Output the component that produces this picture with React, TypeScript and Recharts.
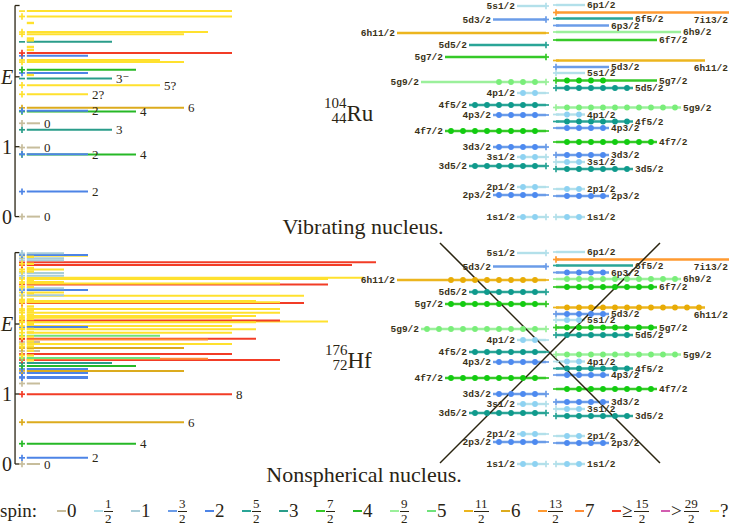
import { ComposedChart, ReferenceLine, Scatter, XAxis, YAxis } from 'recharts'

const W = 729
const H = 524
const SERIF = '"Liberation Serif", "DejaVu Serif", serif'
const MONO = '"Liberation Mono", "DejaVu Sans Mono", monospace'
const INK = '#2a2414'

// colours keyed by 2J
const spinColor: Record<number, string> = {
  0: '#c7bd9c',
  1: '#b3e0ea',
  2: '#a9cdd8',
  3: '#6b9ce8',
  4: '#4d84e6',
  5: '#2aa597',
  6: '#2a9d8a',
  7: '#36c928',
  8: '#26b826',
  9: '#9bf09b',
  10: '#6fe27a',
  11: '#ecb51e',
  12: '#dcab1e',
  13: '#ff9a30',
  14: '#ff8c36',
}
const dotColor: Record<number, string> = {
  1: '#8ed2f2',
  3: '#4d8af0',
  5: '#0f9a8c',
  7: '#12cc10',
  9: '#7aee7a',
  11: '#e8ac06',
  13: '#ff9020',
}
const RED = '#f23c26'
const MAGENTA = '#d25db0'
const UNKNOWN = '#ffe12e'

const legendSpins = ['0', '1/2', '1', '3/2', '2', '5/2', '3', '7/2', '4', '9/2', '5', '11/2', '6', '13/2', '7', '≥15/2', '>29/2', '?']

type Level = { e: number; j: number | null; p: number; t?: boolean; label?: string }

// 104Ru levels: energy (MeV), spin, parity, tentative
const ruLevels: Level[] = [
  { e: 0, j: 0, p: 1, label: '0' },
  { e: 0.358, j: 2, p: 1, label: '2' },
  { e: 0.888, j: 4, p: 1, label: '4' },
  { e: 0.893, j: 2, p: 1, label: '2' },
  { e: 0.988, j: 0, p: 1, label: '0' },
  { e: 1.242, j: 3, p: 1, label: '3' },
  { e: 1.335, j: 0, p: 1, label: '0' },
  { e: 1.556, j: 6, p: 1, label: '6' },
  { e: 1.503, j: 4, p: 1, label: '4' },
  { e: 1.515, j: 2, p: 1, label: '2' },
  { e: 1.75, j: 2, p: 1, t: true, label: '2?' },
  { e: 1.88, j: 5, p: 1, t: true, label: '5?' },
  { e: 1.975, j: 3, p: -1, label: '3⁻' },
  { e: 2.026, j: null, p: 0, t: true },
  { e: 2.055, j: 2, p: 1 },
  { e: 2.1, j: 4, p: 1 },
  { e: 2.21, j: 6, p: 1, t: true },
  { e: 2.24, j: 5, p: 1, t: true },
  { e: 2.3, j: 2, p: 1 },
  { e: 2.34, j: 8, p: 1 },
  { e: 2.384, j: null, p: 0, t: true },
  { e: 2.427, j: null, p: 0, t: true },
  { e: 2.5, j: 3, p: -1 },
  { e: 2.52, j: null, p: 0, t: true },
  { e: 2.548, j: null, p: 0, t: true },
  { e: 2.61, j: 6, p: 1, t: true },
  { e: 2.64, j: 7, p: 1, t: true },
  { e: 2.77, j: null, p: 0, t: true },
  { e: 2.863, j: 8, p: 1, t: true },
  { e: 2.94, j: 8, p: -1, t: true },
]

// 176Hf levels
const hfLevels: Level[] = [
  { e: 0, j: 0, p: 1, label: '0' },
  { e: 0.088, j: 2, p: 1, label: '2' },
  { e: 0.29, j: 4, p: 1, label: '4' },
  { e: 0.597, j: 6, p: 1, label: '6' },
  { e: 0.997, j: 8, p: 1, label: '8' },
  { e: 1.15, j: 0, p: 1 },
  { e: 1.23, j: 2, p: 1 },
  { e: 1.243, j: 2, p: 1 },
  { e: 1.3, j: 2, p: 1 },
  { e: 1.33, j: 6, p: 1 },
  { e: 1.357, j: 2, p: 1 },
  { e: 1.4, j: 4, p: 1 },
  { e: 1.443, j: 3, p: 1 },
  { e: 1.486, j: 10, p: 1 },
  { e: 1.505, j: 7, p: 1 },
  { e: 1.514, j: 5, p: 1 },
  { e: 1.571, j: 8, p: 1 },
  { e: 1.614, j: 0, p: 1 },
  { e: 1.657, j: 6, p: 1 },
  { e: 1.714, j: 8, p: 1, t: true },
  { e: 1.743, j: 0, p: 1 },
  { e: 1.78, j: 7, p: 1 },
  { e: 1.79, j: 9, p: 1 },
  { e: 1.833, j: 5, p: 1 },
  { e: 1.876, j: 8, p: 1, t: true },
  { e: 1.924, j: 9, p: 1, t: true },
  { e: 1.957, j: 2, p: 1 },
  { e: 1.971, j: 8, p: 1, t: true },
  { e: 2.024, j: 9, p: 1, t: true },
  { e: 2.05, j: 10, p: 1 },
  { e: 2.036, j: 12, p: 1, t: true },
  { e: 2.09, j: 8, p: 1, t: true },
  { e: 2.114, j: 9, p: 1, t: true },
  { e: 2.161, j: 10, p: 1, t: true },
  { e: 2.214, j: 10, p: 1, t: true },
  { e: 2.3, j: 11, p: 1 },
  { e: 2.31, j: 10, p: 1, t: true },
  { e: 2.33, j: 9, p: 1, t: true },
  { e: 2.404, j: 11, p: 1, t: true },
  { e: 2.41, j: 1, p: 1 },
  { e: 2.45, j: 1, p: 1, t: true },
  { e: 2.486, j: 2, p: 1 },
  { e: 2.51, j: 1, p: 1 },
  { e: 2.565, j: 12, p: 1 },
  { e: 2.58, j: 10, p: 1, t: true },
  { e: 2.6, j: 1, p: 1, t: true },
  { e: 2.643, j: 12, p: 1, t: true },
  { e: 2.66, j: 13.5, p: 1, t: true },
  { e: 2.69, j: 1, p: 1 },
  { e: 2.73, j: 1, p: 1 },
  { e: 2.78, j: 1, p: 1, t: true },
  { e: 2.843, j: 13, p: 1 },
  { e: 2.881, j: 14, p: 1 },
  { e: 2.91, j: 1, p: 1 },
  { e: 2.94, j: 1, p: 1 },
  { e: 2.975, j: 2, p: 1, t: true },
  { e: 2.986, j: 2, p: 1 },
  { e: 3.01, j: 1, p: 1 },
  { e: 1.48, j: null, p: 0, t: true },
  { e: 1.55, j: null, p: 1, t: true },
  { e: 1.62, j: null, p: 0, t: true },
  { e: 1.68, j: null, p: 1, t: true },
  { e: 1.75, j: null, p: 0, t: true },
  { e: 1.82, j: null, p: 1, t: true },
  { e: 1.88, j: null, p: 0, t: true },
  { e: 1.93, j: null, p: 1, t: true },
  { e: 2.0, j: null, p: 0, t: true },
  { e: 2.07, j: null, p: 1, t: true },
  { e: 2.13, j: null, p: 0, t: true },
  { e: 2.19, j: null, p: 1, t: true },
  { e: 2.25, j: null, p: 0, t: true },
  { e: 2.35, j: null, p: 1, t: true },
  { e: 2.44, j: null, p: 0, t: true },
  { e: 2.53, j: null, p: 1, t: true },
  { e: 2.62, j: null, p: 0, t: true },
  { e: 2.75, j: null, p: 1, t: true },
  { e: 2.8, j: null, p: 0, t: true },
  { e: 2.86, j: null, p: 1, t: true },
  { e: 2.96, j: null, p: 0, t: true },
]

// single-particle orbitals, in the order they are listed
const orbitals = ['1s1/2', '2p3/2', '2p1/2', '3d5/2', '3s1/2', '3d3/2', '4f7/2', '4p3/2', '4f5/2', '4p1/2', '5g9/2', '5g7/2', '5d5/2', '6h11/2', '5d3/2', '5s1/2', '6f7/2', '6h9/2', '6p3/2', '6f5/2', '7i13/2', '6p1/2']
// left column (protons) energies, arbitrary units
const protonShell = [0, 1.1, 1.5, 2.55, 3.0, 3.5, 4.3, 5.1, 5.6, 6.2, 6.75, 8.0, 8.6, 9.2, 9.875, 10.55]
// right column (neutrons) energies
const neutronShell = [0, 1.05, 1.4, 2.4, 2.75, 3.1, 3.75, 4.45, 4.775, 5.125, 5.475, 6.825, 6.45, 7.825, 7.5, 7.2, 8.85, 9.25, 9.575, 9.925, 10.225, 10.6]

const ruZ = 44
const ruN = 60
const hfZ = 72
const hfN = 104
const spectrumTicks = [0, 1, 2]
const spectrumTickText = ['0', '1', 'E']
const spectrumTop = 3.02

// layout in axis units
const LINE_START = -0.55
const STUB_END = -0.25
const MARK_X = -0.75
const AXIS_X = -1.04
const SERIF_X = -0.85
const TICK_TEXT_X = -1.37
const GAP = 10 / 12
const MARK_GAP = 5 / 12

const twoJOf = (name: string) => Number(name.match(/(\d+)\/2$/)![1])
const parityOf = (name: string) => ('sdgi'.includes(name[1]) ? 1 : -1)

function levelColor(lv: Level) {
  if (lv.t) return UNKNOWN
  const tj = Math.round((lv.j ?? 0) * 2)
  if (tj > 29) return MAGENTA
  if (tj >= 15) return RED
  return spinColor[tj]
}

function legendColor(s: string) {
  if (s === '?') return UNKNOWN
  if (s.startsWith('>')) return MAGENTA
  if (s.startsWith('≥')) return RED
  const [a, b] = s.split('/')
  return spinColor[b ? Number(a) : Number(a) * 2]
}

function fillShells(energies: number[], count: number) {
  const order = energies.map((_, i) => i).sort((a, b) => energies[a] - energies[b])
  const occ = energies.map(() => 0)
  let left = count
  for (const i of order) {
    const n = twoJOf(orbitals[i]) + 1
    occ[i] = Math.min(n, left)
    left -= occ[i]
  }
  return occ
}

const markShape = (props: any) => {
  const { cx, cy, payload } = props
  return (
    <g>
      <line x1={cx - 3} x2={cx + 3} y1={cy} y2={cy} stroke={payload.c} strokeWidth={1.7} />
      {payload.p > 0 && <line x1={cx} x2={cx} y1={cy - 3.2} y2={cy + 3.2} stroke={payload.c} strokeWidth={1.7} />}
    </g>
  )
}

const dotShape = (props: any) => <circle cx={props.cx} cy={props.cy} r={2.9} fill={props.payload.c} />

const shellLabel = (props: any) => {
  const { cx, cy, payload } = props
  const name: string = payload.name
  const w = name.length * 5.6
  const common = { fontFamily: MONO, fontSize: 9.5, fontWeight: 700, fill: '#3a3218', dy: '0.35em' }
  if (payload.side < 0) {
    return <text x={cx - 2} y={cy} textAnchor="end" {...common}>{name}</text>
  }
  if (cx + 3 + w > W) {
    return <text x={W - 1} y={cy + 7} textAnchor="end" {...common}>{name}</text>
  }
  return <text x={cx + 2} y={cy} textAnchor="start" {...common}>{name}</text>
}

const tickShape = (props: any) => {
  const { cx, cy, payload } = props
  return (
    <text x={cx} y={cy} dy="0.35em" textAnchor="middle" fontFamily={SERIF} fontSize={20} fill={INK} fontStyle={payload.t === 'E' ? 'italic' : 'normal'}>
      {payload.t}
    </text>
  )
}

function spectrum(levels: Level[], yId: string) {
  const out: any[] = []
  const sorted = [...levels].sort((a, b) => (b.j ?? -1) - (a.j ?? -1))
  sorted.forEach((lv, i) => {
    const c = levelColor(lv)
    out.push(
      <ReferenceLine
        key={yId + 'l' + i}
        xAxisId="spec"
        yAxisId={yId}
        ifOverflow="visible"
        segment={[{ x: LINE_START, y: lv.e }, { x: lv.j === null ? STUB_END : lv.j, y: lv.e }]}
        stroke={c}
        strokeWidth={lv.j === null ? 2.4 : 2}
        label={lv.label ? { value: lv.label, position: 'right', offset: 4, fill: INK, fontSize: 13, fontFamily: SERIF } : undefined}
      />,
    )
  })
  const seg = (k: string, a: { x: number; y: number }, b: { x: number; y: number }) => (
    <ReferenceLine key={yId + k} xAxisId="spec" yAxisId={yId} ifOverflow="visible" segment={[a, b]} stroke={INK} strokeWidth={1.3} />
  )
  out.push(seg('ax', { x: AXIS_X, y: 0 }, { x: AXIS_X, y: spectrumTop }))
  out.push(seg('top', { x: AXIS_X, y: spectrumTop }, { x: SERIF_X, y: spectrumTop }))
  spectrumTicks.forEach((t) => out.push(seg('t' + t, { x: AXIS_X, y: t }, { x: SERIF_X, y: t })))
  out.push(
    <Scatter
      key={yId + 'marks'}
      xAxisId="spec"
      yAxisId={yId}
      data={levels.filter((l) => l.p !== 0).map((l) => ({ x: MARK_X, y: l.e, p: l.p, c: levelColor(l) }))}
      shape={markShape}
      isAnimationActive={false}
    />,
  )
  out.push(
    <Scatter
      key={yId + 'ticks'}
      xAxisId="spec"
      yAxisId={yId}
      data={spectrumTicks.map((t, i) => ({ x: TICK_TEXT_X, y: t, t: spectrumTickText[i] }))}
      shape={tickShape}
      isAnimationActive={false}
    />,
  )
  return out
}

function shellColumn(side: number, energies: number[], count: number, yId: string) {
  const occ = fillShells(energies, count)
  const out: any[] = []
  const dots: any[] = []
  const marks: any[] = []
  const labels: any[] = []
  energies.forEach((v, i) => {
    const name = orbitals[i]
    const tj = twoJOf(name)
    const n = tj + 1
    const outer = side * (GAP + n)
    out.push(
      <ReferenceLine
        key={yId + side + 'o' + i}
        xAxisId="shell"
        yAxisId={yId}
        ifOverflow="visible"
        segment={[{ x: outer, y: v }, { x: side * MARK_GAP, y: v }]}
        stroke={spinColor[tj]}
        strokeWidth={2.4}
      />,
    )
    for (let k = 0; k < occ[i]; k++) dots.push({ x: side * (GAP + k + 0.5), y: v, c: dotColor[tj] })
    marks.push({ x: side * MARK_GAP, y: v, p: parityOf(name), c: spinColor[tj] })
    labels.push({ x: outer, y: v, name, side })
  })
  out.push(<Scatter key={yId + side + 'd'} xAxisId="shell" yAxisId={yId} data={dots} shape={dotShape} isAnimationActive={false} />)
  out.push(<Scatter key={yId + side + 'm'} xAxisId="shell" yAxisId={yId} data={marks} shape={markShape} isAnimationActive={false} />)
  out.push(<Scatter key={yId + side + 't'} xAxisId="shell" yAxisId={yId} data={labels} shape={shellLabel} isAnimationActive={false} />)
  return out
}

// the cross drawn over the deformed-nucleus scheme
const crossOut = [
  [{ x: -9.25, y: 11.05 }, { x: 9.08, y: 0.05 }],
  [{ x: -9.25, y: 0.05 }, { x: 9.08, y: 11.05 }],
]

function Nucleus({ a, z, sym, left, top }: { a: string; z: string; sym: string; left: number; top: number }) {
  return (
    <div style={{ position: 'absolute', left, top, display: 'flex', alignItems: 'center', fontFamily: SERIF, color: INK }}>
      <div style={{ display: 'flex', flexDirection: 'column', alignItems: 'flex-end', fontSize: 15, lineHeight: '15px' }}>
        <span>{a}</span>
        <span>{z}</span>
      </div>
      <span style={{ fontSize: 23, lineHeight: '23px', marginTop: 4 }}>{sym}</span>
    </div>
  )
}

function Frac({ s }: { s: string }) {
  const m = s.match(/^([≥>]?)(\d+)\/(\d+)$/)
  if (!m) return <span>{s}</span>
  return (
    <span style={{ display: 'inline-flex', alignItems: 'center' }}>
      {m[1] && <span style={{ marginRight: 2 }}>{m[1]}</span>}
      <span style={{ display: 'inline-flex', flexDirection: 'column', alignItems: 'center', fontSize: 13, lineHeight: '12px' }}>
        <span style={{ borderBottom: `1px solid ${INK}`, padding: '0 1px 1px' }}>{m[2]}</span>
        <span style={{ paddingTop: 1 }}>{m[3]}</span>
      </span>
    </span>
  )
}

export default function App() {
  return (
    <div style={{ position: 'absolute', left: 0, top: 0, width: W, height: H, background: '#fff' }}>
      <ComposedChart width={W} height={H} margin={{ top: 0, right: 0, bottom: 0, left: 0 }}>
        <XAxis xAxisId="spec" type="number" dataKey="x" domain={[-40 / 24, (W - 40) / 24]} allowDataOverflow hide />
        <XAxis xAxisId="shell" type="number" dataKey="x" domain={[-551 / 12, (W - 551) / 12]} allowDataOverflow hide />
        <YAxis yAxisId="specTop" type="number" dataKey="y" domain={[(216.6 - H) / 69.9, 216.6 / 69.9]} allowDataOverflow hide />
        <YAxis yAxisId="specBot" type="number" dataKey="y" domain={[(464 - H) / 70, 464 / 70]} allowDataOverflow hide />
        <YAxis yAxisId="shellTop" type="number" dataKey="y" domain={[(217 - H) / 20, 217 / 20]} allowDataOverflow hide />
        <YAxis yAxisId="shellBot" type="number" dataKey="y" domain={[(464 - H) / 20, 464 / 20]} allowDataOverflow hide />
        {spectrum(ruLevels, 'specTop')}
        {spectrum(hfLevels, 'specBot')}
        {shellColumn(-1, protonShell, ruZ, 'shellTop')}
        {shellColumn(1, neutronShell, ruN, 'shellTop')}
        {shellColumn(-1, protonShell, hfZ, 'shellBot')}
        {shellColumn(1, neutronShell, hfN, 'shellBot')}
        {crossOut.map((s, i) => (
          <ReferenceLine key={'x' + i} xAxisId="shell" yAxisId="shellBot" ifOverflow="visible" segment={s} stroke="#2a2410" strokeWidth={1.5} />
        ))}
      </ComposedChart>
      <Nucleus a="104" z="44" sym="Ru" left={324} top={96} />
      <Nucleus a="176" z="72" sym="Hf" left={325} top={343} />
      <div style={{ position: 'absolute', left: 200, width: 326, top: 215, textAlign: 'center', fontFamily: SERIF, fontSize: 22, lineHeight: '24px', color: INK }}>
        Vibrating nucleus.
      </div>
      <div style={{ position: 'absolute', left: 200, width: 328, top: 463, textAlign: 'center', fontFamily: SERIF, fontSize: 22, lineHeight: '24px', color: INK }}>
        Nonspherical nucleus.
      </div>
      <div style={{ position: 'absolute', left: 0, top: 498, height: 26, display: 'flex', alignItems: 'center', fontFamily: SERIF, fontSize: 19, color: INK }}>
        <span style={{ width: 57 }}>spin:</span>
        {legendSpins.map((s) => (
          <span key={s} style={{ display: 'inline-flex', alignItems: 'center', width: /[≥>]/.test(s) ? 49 : 37 }}>
            <span style={{ display: 'inline-block', width: 9, height: 2, background: legendColor(s), marginRight: 1 }} />
            <Frac s={s} />
          </span>
        ))}
      </div>
    </div>
  )
}
